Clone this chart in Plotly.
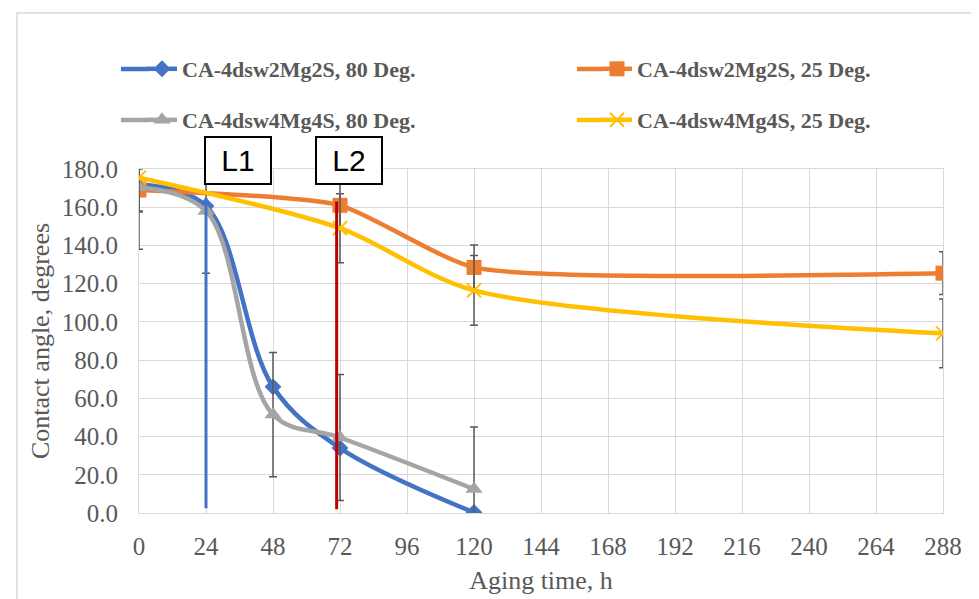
import plotly.graph_objects as go

# ---------------- data ----------------
hours_80 = [0, 24, 48, 72, 120]
hours_25 = [0, 72, 120, 288]

ca_2mg2s_80 = [172.0, 160.6, 66.0, 34.0, 0.3]
ca_4mg4s_80 = [170.5, 158.0, 51.5, 39.5, 12.5]
err_4mg4s_80 = [32.5, 32.5, 32.5, 33.0, 32.5]

ca_2mg2s_25 = [169.0, 161.0, 128.5, 125.5]
err_2mg2s_25 = [11.0, 11.7, 11.7, 11.2]
ca_4mg4s_25 = [175.5, 149.0, 116.5, 94.0]
err_4mg4s_25 = [18.0, 18.0, 18.2, 18.0]

names = ["CA-4dsw2Mg2S, 80 Deg.", "CA-4dsw2Mg2S, 25 Deg.",
         "CA-4dsw4Mg4S, 80 Deg.", "CA-4dsw4Mg4S, 25 Deg."]
colors = ["#4472C4", "#ED7D31", "#A5A5A5", "#FFC000"]

x_ticks = [0, 24, 48, 72, 96, 120, 144, 168, 192, 216, 240, 264, 288]
y_ticks = [0, 20, 40, 60, 80, 100, 120, 140, 160, 180]

# vertical marker lines (L1, L2): x position, y bottom, y top
marker_labels = ["L1", "L2"]
marker_x = [24, 70.8]
marker_y0 = [2.5, 2.0]
marker_y1 = [165, 163]
marker_colors = ["#4472C4", "#C00000"]
label_box_x = [35.3, 75.2]

# ---------------- layout geometry (screenshot pixels) ----------------
OFF = 8  # default body margin of the html page
W, H = 979, 599
ML, MR, MT, MB = 131, 44, 161, 94
PW, PH = W - ML - MR, H - MT - MB

def sx(px):  # screenshot x pixel -> paper
    return (px - OFF - ML) / PW

def sy(py):  # screenshot y pixel -> paper
    return (H - MB - (py - OFF)) / PH

err_style = dict(color="#595959", thickness=1.5, width=4)
serif = "Liberation Serif, Times New Roman, serif"

fig = go.Figure()
fig.add_trace(go.Scatter(
    x=hours_80, y=ca_2mg2s_80, name=names[0], mode="lines+markers",
    line=dict(color=colors[0], width=4.5, shape="spline"),
    marker=dict(symbol="diamond", size=13, color=colors[0]),
    legend="legend", showlegend=True))
fig.add_trace(go.Scatter(
    x=hours_25, y=ca_2mg2s_25, name=names[1], mode="lines+markers",
    line=dict(color=colors[1], width=4.5, shape="spline", smoothing=0.55),
    marker=dict(symbol="square", size=15, color=colors[1]),
    error_y=dict(type="data", array=err_2mg2s_25, **err_style),
    legend="legend2", showlegend=True))
fig.add_trace(go.Scatter(
    x=hours_80, y=ca_4mg4s_80, name=names[2], mode="lines+markers",
    line=dict(color=colors[2], width=4.5, shape="spline"),
    marker=dict(symbol="triangle-up", size=15, color=colors[2]),
    error_y=dict(type="data", array=err_4mg4s_80, **err_style),
    legend="legend3", showlegend=True))
fig.add_trace(go.Scatter(
    x=hours_25, y=ca_4mg4s_25, name=names[3], mode="lines+markers",
    line=dict(color=colors[3], width=4.5, shape="spline", smoothing=0.8),
    marker=dict(symbol="x-thin", size=14, color=colors[3],
                line=dict(color=colors[3], width=2)),
    error_y=dict(type="data", array=err_4mg4s_25, **err_style),
    legend="legend4", showlegend=True))

shapes = []
for xv, y0, y1, c in zip(marker_x, marker_y0, marker_y1, marker_colors):
    shapes.append(dict(type="line", xref="x", yref="y", x0=xv, x1=xv,
                       y0=y0, y1=y1, line=dict(color=c, width=3), layer="above"))
# chart outer border
shapes.append(dict(type="rect", xref="paper", yref="paper",
                   x0=sx(17), x1=sx(976), y0=sy(640), y1=sy(13),
                   line=dict(color="#D9D9D9", width=1.5), layer="below"))

# legend positions (screenshot px): text start x, row centre y
leg_text_x = [183, 638, 183, 638]
leg_row_y = [69, 69, 120, 120]
leg_line_x0 = [121, 577, 121, 577]

legends = {}
for i, (tx, ty, lx0, c) in enumerate(zip(leg_text_x, leg_row_y, leg_line_x0, colors)):
    key = "legend" if i == 0 else f"legend{i + 1}"
    legends[key] = dict(
        x=sx(tx - 41), y=sy(ty), xanchor="left", yanchor="middle",
        orientation="v", itemwidth=30, bgcolor="rgba(0,0,0,0)",
        font=dict(family=serif, size=22, color="#595959", weight="bold"))
    # extend legend sample line to match the original longer sample
    shapes.append(dict(type="line", xref="paper", yref="paper",
                       x0=sx(lx0), x1=sx(tx - 35), y0=sy(ty), y1=sy(ty),
                       line=dict(color=c, width=4.5), layer="above"))

annotations = []
for lab, bx in zip(marker_labels, label_box_x):
    annotations.append(dict(
        x=bx, xref="x", y=sy(160.5), yref="paper",
        text=lab, showarrow=False, width=64, height=45,
        bordercolor="black", borderwidth=2, bgcolor="white", borderpad=0,
        font=dict(family="Liberation Sans, Arial", size=30, color="black"),
        xanchor="center", yanchor="middle"))

fig.update_layout(
    width=W, height=H,
    margin=dict(l=ML, r=MR, t=MT, b=MB),
    paper_bgcolor="white", plot_bgcolor="white",
    showlegend=True,
    font=dict(family=serif, color="#595959"),
    shapes=shapes, annotations=annotations,
    **legends,
    xaxis=dict(range=[0, 288], tickvals=x_ticks, ticktext=[str(v) for v in x_ticks],
               showgrid=True, gridcolor="#D9D9D9", gridwidth=1,
               showline=True, linecolor="#D9D9D9", linewidth=1, mirror=True,
               zeroline=False, ticks="", ticklabelstandoff=11,
               tickfont=dict(size=25, color="#595959"),
               title=dict(text="Aging time, h", font=dict(size=26, color="#595959"),
                          standoff=11)),
    yaxis=dict(range=[0, 180], tickvals=y_ticks,
               ticktext=[f"{v:.1f}" for v in y_ticks],
               showgrid=True, gridcolor="#D9D9D9", gridwidth=1,
               showline=True, linecolor="#D9D9D9", linewidth=1, mirror=True,
               zeroline=False, ticks="", ticklabelstandoff=15,
               tickfont=dict(size=25, color="#595959"),
               title=dict(text="Contact angle, degrees",
                          font=dict(size=26, color="#595959"), standoff=4)),
)

fig.write_html("out.html")
